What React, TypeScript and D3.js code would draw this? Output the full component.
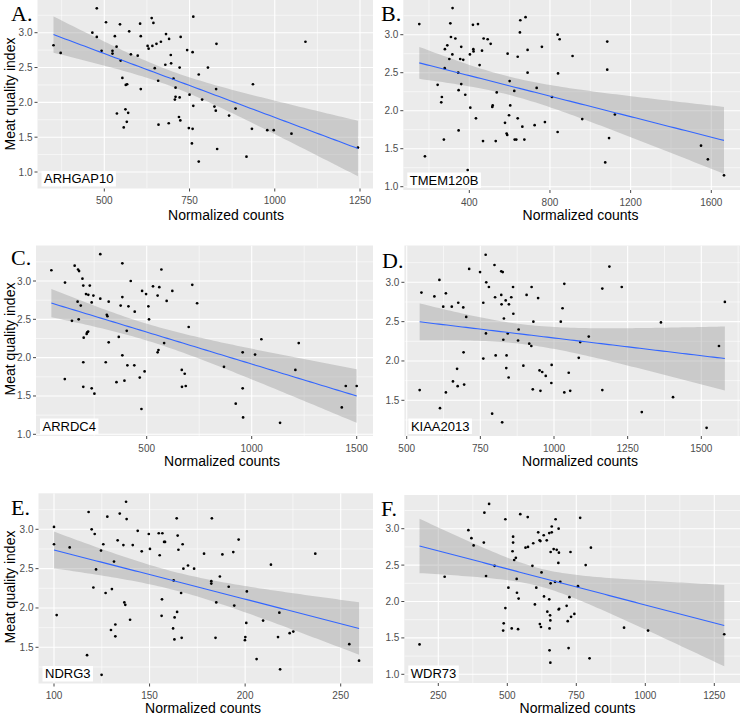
import React from "react";
import * as d3 from "d3";

// ---------------- DATA ----------------
const ARHGAP10_X = [351,372,478,465,478,492,505,531,546,524,524,536,548,573,578,598,605,607,607,553,563,567,537,562,570,557,566,627,630,639,644,641,653,666,681,690,648,658,679,696,695,724,721,703,709,709,707,721,719,723,659,689,743,759,761,777,750,761,787,748,759,757,777,804,829,828,823,827,831,866,885,933,936,917,978,997,1049,1090,1244];
const ARHGAP10_Y = [2.82,2.71,3.35,3.00,2.94,2.74,3.15,2.95,3.12,2.74,2.70,2.80,2.60,3.02,2.69,2.67,3.13,2.95,2.19,2.35,2.25,2.26,1.84,1.90,1.85,1.64,1.72,2.81,2.77,3.21,3.14,2.81,2.84,2.87,2.98,2.91,2.49,2.31,2.54,2.56,2.68,2.94,2.50,2.34,2.21,2.08,2.04,2.07,1.79,1.74,1.68,1.70,2.75,2.72,3.23,2.40,2.11,1.95,2.04,1.63,1.62,1.41,1.15,2.50,2.84,2.19,1.94,1.88,1.33,1.81,1.91,1.62,2.26,1.22,1.60,1.60,1.55,2.87,1.35];

const TMEM120B_X = [152,180,317,306,309,331,291,279,301,316,278,243,264,261,274,345,347,347,355,370,360,360,380,392,403,405,418,443,420,421,433,451,463,471,491,506,468,514,516,536,531,590,600,603,597,577,585,588,640,623,640,625,633,653,679,651,689,689,663,673,724,734,760,775,810,838,848,840,838,912,960,1084,1084,1093,1074,1122,1549,1583,1663];
const TMEM120B_Y = [3.14,1.40,3.35,3.15,2.97,2.95,2.86,2.81,2.68,2.74,2.56,2.34,2.18,2.11,1.62,2.50,2.27,1.74,2.68,2.67,2.84,2.35,2.21,1.22,2.74,2.04,3.13,3.14,2.81,2.78,1.90,2.60,2.79,2.95,2.94,2.88,1.60,2.05,2.07,2.24,1.60,2.75,2.39,2.07,1.94,1.84,1.70,1.68,2.71,2.26,1.90,1.62,1.62,3.19,3.23,3.03,2.80,2.50,1.79,1.62,1.81,2.30,2.84,1.85,2.18,3.00,2.94,2.49,1.72,2.72,1.89,2.91,2.54,1.64,1.32,1.95,1.54,1.36,1.15];

const ARRDC4_X = [46,111,110,144,157,173,178,194,198,229,171,186,176,211,222,246,238,279,200,217,221,214,198,198,238,251,279,310,313,319,319,305,384,384,376,367,356,384,394,408,405,413,424,443,441,478,497,508,511,530,552,560,570,490,467,475,552,556,583,595,622,717,740,700,667,681,668,686,868,957,1016,1046,957,924,959,1135,1208,1224,1429,1448,1500];
const ARRDC4_Y = [3.14,2.98,1.72,2.48,3.20,3.15,3.13,3.03,2.94,2.94,2.73,2.68,2.50,2.83,2.82,2.81,2.72,2.77,2.26,2.33,2.34,2.31,1.94,1.62,1.60,1.53,3.35,2.56,2.54,2.73,2.20,1.94,3.23,2.79,2.68,2.27,1.68,2.03,1.70,1.90,2.35,2.67,3.00,2.60,1.90,2.87,2.83,2.67,2.50,2.93,2.81,2.92,3.15,1.82,1.74,1.33,2.07,2.10,2.19,2.74,2.87,2.95,2.71,2.40,1.84,1.79,1.62,1.63,1.88,2.07,2.04,2.24,1.60,1.40,1.22,1.15,1.84,2.19,1.35,1.63,1.63];

const KIAA2013_X = [544,550,594,611,613,624,633,633,653,657,671,673,675,692,693,695,702,712,749,760,760,768,770,769,779,790,798,800,802,821,826,821,822,836,830,828,824,843,839,838,846,847,855,861,862,880,878,896,907,916,923,924,928,930,946,951,960,972,954,992,991,1023,1029,1035,1035,1050,1055,1084,1089,1118,1164,1164,1188,1230,1298,1363,1404,1518,1560,1580];
const KIAA2013_Y = [1.63,2.87,2.82,3.03,1.40,2.69,2.86,1.60,2.69,1.74,1.90,1.68,2.74,2.68,2.11,1.70,2.56,3.17,3.13,2.74,2.03,3.35,3.00,2.35,2.94,1.33,3.22,2.81,2.07,3.14,3.13,2.84,2.72,2.77,2.54,2.27,1.22,2.35,2.07,1.91,1.79,2.72,2.81,2.94,2.60,2.40,2.26,1.94,2.84,2.22,2.19,2.94,1.64,2.50,2.80,1.88,1.86,1.81,1.62,1.95,1.72,2.50,2.67,2.98,1.60,1.85,1.62,2.04,2.24,2.31,2.92,1.63,3.20,2.94,1.35,2.49,1.54,1.15,2.19,2.75];

const NDRG3_X = [100,100,101.4,108.2,117.3,118.1,119.7,121.3,120.6,122,124.6,125.8,124.9,127,127.9,129.8,130.3,131.4,132.1,132.1,133.3,134.4,136.3,136.8,137.3,137.7,138,139.8,141.2,143.8,145.9,149.6,150.2,154.8,155.3,156.7,157.6,158.1,156.5,156.3,164.2,164.7,165.1,167.3,167.7,170.1,173.3,162.6,166.5,164.4,163.1,162.3,163,166.8,178.5,182.3,182.3,182.6,184.9,184.5,186.8,188.1,191.4,193.8,194.3,196.6,200.9,200.6,200.1,199.9,209.4,206,213.5,217.9,217.2,218.3,223.3,225.2,236.7,254.5,259.6];
const NDRG3_Y = [3.03,2.81,1.91,2.77,1.40,3.22,3.00,2.94,2.26,2.49,2.73,2.81,1.15,2.19,3.16,1.72,2.24,2.59,1.79,1.64,2.86,3.20,2.80,2.07,2.04,3.35,3.13,1.85,2.80,2.98,2.72,2.94,2.75,2.95,2.67,2.95,2.84,2.84,2.11,1.90,3.14,2.92,2.74,2.81,2.50,2.54,2.50,2.35,2.19,1.95,1.88,1.74,1.60,1.62,2.69,2.34,2.31,3.14,2.07,1.62,2.40,2.68,2.27,2.71,2.03,2.87,2.21,1.81,1.63,1.59,1.84,1.35,2.55,1.94,1.63,1.22,1.68,1.70,2.69,1.54,1.33];

const WDR73_X = [182,273,359,370,378,417,415,434,423,454,493,521,521,519,525,531,534,535,541,504,493,487,485,516,539,547,574,566,575,591,594,612,620,617,632,643,652,661,661,675,686,668,679,687,657,685,673,692,657,624,600,605,633,652,645,655,656,618,622,653,653,656,686,688,715,725,719,731,743,722,729,756,784,764,803,798,923,1010,1286];
const WDR73_Y = [1.41,2.34,2.98,2.87,2.77,3.22,2.81,3.34,2.35,2.49,3.13,2.89,2.81,2.69,2.57,2.60,2.31,2.12,2.04,2.19,1.91,1.70,1.60,1.63,1.62,3.20,3.16,2.74,2.75,2.49,2.80,2.95,2.83,2.84,2.91,2.84,2.94,3.03,2.95,3.13,3.00,2.72,2.71,2.67,2.68,2.53,2.27,2.27,2.25,2.40,1.96,2.19,2.07,2.03,1.86,1.81,1.74,1.69,1.65,1.63,1.33,1.16,1.89,1.90,1.94,2.06,1.73,1.79,1.83,1.36,2.68,2.21,2.50,3.15,2.74,1.22,1.64,1.60,1.55];

const TICKS_A_X = [500, 750, 1000, 1250];
const TICKS_B_X = [400, 800, 1200, 1600];
const TICKS_C_X = [500, 1000, 1500];
const TICKS_D_X = [500, 750, 1000, 1250, 1500];
const TICKS_E_X = [100, 150, 200, 250];
const TICKS_F_X = [250, 500, 750, 1000, 1250];
const TICKS_Y_FULL = [1.0, 1.5, 2.0, 2.5, 3.0];
const TICKS_Y_SHORT = [1.5, 2.0, 2.5, 3.0];

const PANEL_LETTERS = ["A.", "B.", "C.", "D.", "E.", "F."];
const GENES = ["ARHGAP10", "TMEM120B", "ARRDC4", "KIAA2013", "NDRG3", "WDR73"];
const X_TITLE = "Normalized counts";
const Y_TITLE = "Meat quality index";

// ---------------- LAYOUT ----------------
const SANS = "'Liberation Sans', Arial, Helvetica, sans-serif";
const SERIF = "'Liberation Serif', 'Times New Roman', serif";
const T_CRIT = 1.99;

type Panel = {
  letter: string; gene: string; xs: number[]; ys: number[];
  xTicks: number[]; yTicks: number[];
  xCal: [number, number]; xPix: [number, number];
  yCal: [number, number]; yPix: [number, number];
  l: number; r: number; t: number; b: number;
  yTitleY: number | null; titleX: number; titleY: number; letterX: number; letterY: number;
  left: boolean;
};

const PANELS: Panel[] = [
  { letter: PANEL_LETTERS[0], gene: GENES[0], xs: ARHGAP10_X, ys: ARHGAP10_Y, xTicks: TICKS_A_X, yTicks: TICKS_Y_FULL,
    xCal: [500, 1250], xPix: [104.3, 360], yCal: [1, 3], yPix: [172, 32.7],
    l: 37.5, r: 373.5, t: 0, b: 188.5, yTitleY: 94, titleX: 226, titleY: 220, letterX: 11, letterY: 21, left: true },
  { letter: PANEL_LETTERS[1], gene: GENES[1], xs: TMEM120B_X, ys: TMEM120B_Y, xTicks: TICKS_B_X, yTicks: TICKS_Y_FULL,
    xCal: [400, 1600], xPix: [469.3, 711.3], yCal: [1, 3], yPix: [186.7, 34.7],
    l: 403.3, r: 740, t: 0, b: 190, yTitleY: null, titleX: 580.5, titleY: 220, letterX: 381, letterY: 21, left: false },
  { letter: PANEL_LETTERS[2], gene: GENES[2], xs: ARRDC4_X, ys: ARRDC4_Y, xTicks: TICKS_C_X, yTicks: TICKS_Y_FULL,
    xCal: [500, 1000], xPix: [146.7, 251.7], yCal: [1, 3], yPix: [434.3, 281],
    l: 36, r: 373, t: 245.5, b: 436, yTitleY: 339, titleX: 222, titleY: 466, letterX: 11, letterY: 265, left: true },
  { letter: PANEL_LETTERS[3], gene: GENES[3], xs: KIAA2013_X, ys: KIAA2013_Y, xTicks: TICKS_D_X, yTicks: TICKS_Y_SHORT,
    xCal: [500, 1500], xPix: [406.7, 701.3], yCal: [1.5, 3], yPix: [400.3, 282.3],
    l: 404.4, r: 740, t: 245.5, b: 436, yTitleY: null, titleX: 580, titleY: 466, letterX: 382, letterY: 268, left: false },
  { letter: PANEL_LETTERS[4], gene: GENES[4], xs: NDRG3_X, ys: NDRG3_Y, xTicks: TICKS_E_X, yTicks: TICKS_Y_SHORT,
    xCal: [100, 250], xPix: [54, 340.7], yCal: [1.5, 3], yPix: [647.3, 529.3],
    l: 38.5, r: 374, t: 493.3, b: 683.5, yTitleY: 587, titleX: 203, titleY: 712.5, letterX: 11, letterY: 515, left: true },
  { letter: PANEL_LETTERS[5], gene: GENES[5], xs: WDR73_X, ys: WDR73_Y, xTicks: TICKS_F_X, yTicks: TICKS_Y_FULL,
    xCal: [250, 1250], xPix: [438.3, 714.3], yCal: [1, 3], yPix: [674.3, 528.7],
    l: 404.3, r: 740, t: 495, b: 683, yTitleY: null, titleX: 577.5, titleY: 712.5, letterX: 381, letterY: 516, left: false },
];

function linFit(xs: number[], ys: number[]) {
  const n = xs.length;
  const mx = d3.mean(xs) as number;
  const my = d3.mean(ys) as number;
  let sxx = 0, sxy = 0;
  for (let i = 0; i < n; i++) { sxx += (xs[i] - mx) ** 2; sxy += (xs[i] - mx) * (ys[i] - my); }
  const b1 = sxy / sxx, b0 = my - b1 * mx;
  let sse = 0;
  for (let i = 0; i < n; i++) sse += (ys[i] - b0 - b1 * xs[i]) ** 2;
  const s = Math.sqrt(sse / (n - 2));
  return { b0, b1, s, n, mx, sxx };
}

let measureCtx: CanvasRenderingContext2D | null = null;
function textWidth(txt: string, font: string) {
  if (!measureCtx) measureCtx = document.createElement("canvas").getContext("2d");
  if (!measureCtx) return txt.length * 7;
  measureCtx.font = font;
  return measureCtx.measureText(txt).width;
}

function minorOf(ticks: number[]) {
  const step = ticks[1] - ticks[0];
  return [ticks[0] - step / 2, ...ticks.map((v) => v + step / 2)];
}

function PanelView({ p, idx }: { p: Panel; idx: number }) {
  const x = d3.scaleLinear().domain(p.xCal).range(p.xPix);
  const y = d3.scaleLinear().domain(p.yCal).range(p.yPix);
  const inX = (v: number) => x(v) >= p.l && x(v) <= p.r;
  const inY = (v: number) => y(v) >= p.t && y(v) <= p.b;
  const xMinor = minorOf(p.xTicks).filter(inX);
  const yMinor = minorOf(p.yTicks).filter(inY);

  const f = linFit(p.xs, p.ys);
  const [xmin, xmax] = d3.extent(p.xs) as [number, number];
  const grid = d3.range(80).map((i) => xmin + ((xmax - xmin) * i) / 79);
  const band = grid.map((gx) => {
    const yh = f.b0 + f.b1 * gx;
    const se = f.s * Math.sqrt(1 / f.n + (gx - f.mx) ** 2 / f.sxx);
    return { gx, yh, lo: yh - T_CRIT * se, hi: yh + T_CRIT * se };
  });
  const area = d3.area<any>().x((d) => x(d.gx)).y0((d) => y(d.lo)).y1((d) => y(d.hi));
  const line = d3.line<any>().x((d) => x(d.gx)).y((d) => y(d.yh));

  const clipId = `clip-panel-${idx}`;
  const gw = textWidth(p.gene, "13px 'Liberation Sans', Arial, sans-serif");

  return (
    <g>
      <defs>
        <clipPath id={clipId}>
          <rect x={p.l} y={p.t} width={p.r - p.l} height={p.b - p.t} />
        </clipPath>
      </defs>
      <rect x={p.l} y={p.t} width={p.r - p.l} height={p.b - p.t} fill="#EBEBEB" />
      <g clipPath={`url(#${clipId})`}>
        {xMinor.map((v) => (
          <line key={`xm${v}`} x1={x(v)} x2={x(v)} y1={p.t} y2={p.b} stroke="#fff" strokeWidth={0.55} />
        ))}
        {yMinor.map((v) => (
          <line key={`ym${v}`} x1={p.l} x2={p.r} y1={y(v)} y2={y(v)} stroke="#fff" strokeWidth={0.55} />
        ))}
        {p.xTicks.map((v) => (
          <line key={`xM${v}`} x1={x(v)} x2={x(v)} y1={p.t} y2={p.b} stroke="#fff" strokeWidth={1.1} />
        ))}
        {p.yTicks.map((v) => (
          <line key={`yM${v}`} x1={p.l} x2={p.r} y1={y(v)} y2={y(v)} stroke="#fff" strokeWidth={1.1} />
        ))}
        <path d={area(band) || ""} fill="#999999" fillOpacity={0.4} />
        {p.xs.map((xv, i) => (
          <circle key={`pt${i}`} cx={x(xv)} cy={y(p.ys[i])} r={1.35} fill="#000" />
        ))}
        <path d={line(band) || ""} fill="none" stroke="#3366FF" strokeWidth={1.1} />
      </g>
      {/* gene label */}
      <rect x={p.l + 4} y={p.b - 17.5} width={gw + 5} height={15.5} fill="#fff" />
      <text x={p.l + 6.5} y={p.b - 5.5} fontFamily={SANS} fontSize={13} fill="#000">
        {p.gene}
      </text>
      {/* axes ticks */}
      {p.xTicks.filter(inX).map((v) => (
        <g key={`xt${v}`}>
          <line x1={x(v)} x2={x(v)} y1={p.b} y2={p.b + 3} stroke="#333" strokeWidth={0.9} />
          <text x={x(v)} y={p.b + 15.5} textAnchor="middle" fontFamily={SANS} fontSize={10} fill="#4D4D4D">
            {v}
          </text>
        </g>
      ))}
      {p.yTicks.filter(inY).map((v) => (
        <g key={`yt${v}`}>
          <line x1={p.l - 3} x2={p.l} y1={y(v)} y2={y(v)} stroke="#333" strokeWidth={0.9} />
          <text x={p.l - 5} y={y(v) + 3.5} textAnchor="end" fontFamily={SANS} fontSize={10} fill="#4D4D4D">
            {v.toFixed(1)}
          </text>
        </g>
      ))}
      <text x={p.titleX} y={p.titleY} textAnchor="middle" fontFamily={SANS} fontSize={14} fill="#000">
        {X_TITLE}
      </text>
      {p.yTitleY !== null && (
        <text transform={`translate(15,${p.yTitleY}) rotate(-90)`} textAnchor="middle" fontFamily={SANS} fontSize={14} fill="#000">
          {Y_TITLE}
        </text>
      )}
      <text x={p.letterX} y={p.letterY} fontFamily={SERIF} fontSize={22} fill="#000">
        {p.letter}
      </text>
    </g>
  );
}

export default function App() {
  return (
    <svg
      width={740}
      height={715}
      viewBox="0 0 740 715"
      style={{ position: "absolute", left: 0, top: 0, background: "#fff" }}
    >
      <defs>
        <clipPath id="left-col">
          <rect x={0} y={0} width={373} height={715} />
        </clipPath>
      </defs>
      <rect x={0} y={0} width={740} height={715} fill="#fff" />
      <g clipPath="url(#left-col)">
        {PANELS.map((p, i) => (p.left ? <PanelView key={i} p={p} idx={i} /> : null))}
      </g>
      <g>
        {PANELS.map((p, i) => (!p.left ? <PanelView key={i} p={p} idx={i} /> : null))}
      </g>
    </svg>
  );
}
